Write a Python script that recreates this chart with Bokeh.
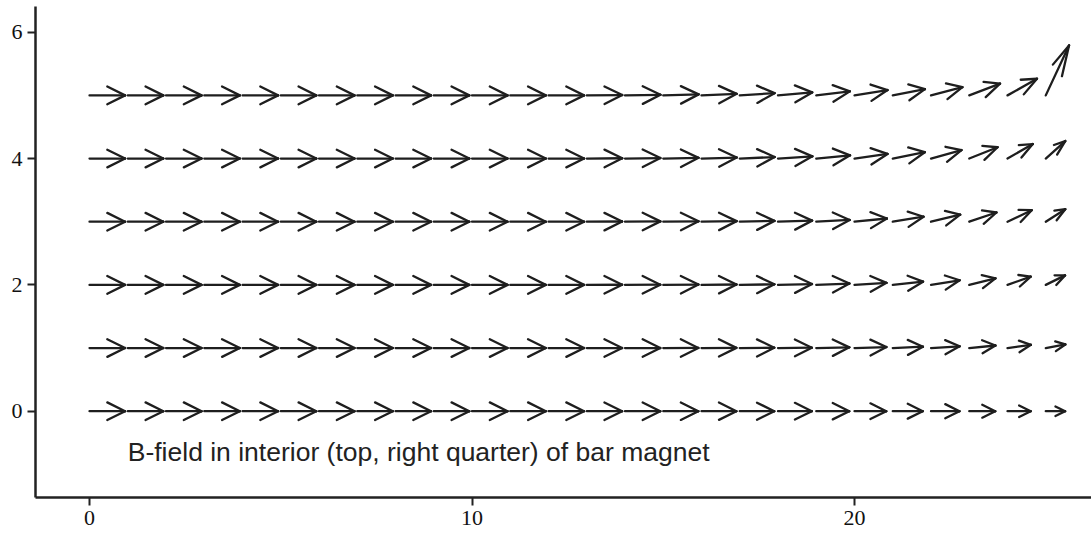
from bokeh.plotting import figure
from bokeh.models import FixedTicker, Range1d, ColumnDataSource, Label
from bokeh.embed import file_html
from bokeh.resources import INLINE

# grid of arrow tails
x_grid = list(range(26))
y_rows = [0, 1, 2, 3, 4, 5]

# field components (data units), one list per row, 26 columns each
left = [0.93] * 13
zero = [0.0] * 13
u_rows = [
    left + [0.925, 0.923, 0.918, 0.912, 0.902, 0.884, 0.863, 0.831, 0.784, 0.745, 0.680, 0.607, 0.507],
    left + [0.925, 0.923, 0.918, 0.912, 0.902, 0.884, 0.865, 0.834, 0.790, 0.748, 0.685, 0.612, 0.512],
    left + [0.925, 0.923, 0.920, 0.915, 0.905, 0.889, 0.868, 0.837, 0.792, 0.748, 0.685, 0.607, 0.505],
    left + [0.925, 0.925, 0.923, 0.918, 0.907, 0.892, 0.873, 0.847, 0.805, 0.763, 0.711, 0.633, 0.510],
    left + [0.928, 0.925, 0.923, 0.920, 0.912, 0.899, 0.884, 0.863, 0.837, 0.797, 0.740, 0.661, 0.510],
    left + [0.928, 0.928, 0.925, 0.920, 0.910, 0.894, 0.878, 0.863, 0.842, 0.821, 0.805, 0.771, 0.609],
]
v_rows = [
    zero + [0.0] * 13,
    zero + [0.0, 0.0, 0.002, 0.003, 0.005, 0.006, 0.011, 0.016, 0.021, 0.028, 0.040, 0.051, 0.057],
    zero + [0.002, 0.003, 0.005, 0.006, 0.009, 0.013, 0.021, 0.032, 0.051, 0.073, 0.104, 0.131, 0.150],
    zero + [0.003, 0.005, 0.006, 0.009, 0.013, 0.017, 0.028, 0.051, 0.079, 0.111, 0.146, 0.182, 0.198],
    zero + [0.005, 0.008, 0.011, 0.016, 0.024, 0.035, 0.051, 0.073, 0.100, 0.134, 0.179, 0.229, 0.277],
    zero + [0.005, 0.009, 0.016, 0.024, 0.035, 0.047, 0.063, 0.084, 0.098, 0.130, 0.187, 0.263, 0.791],
]

x_ticks = [0, 10, 20]
y_ticks = [0, 2, 4, 6]
caption = "B-field in interior (top, right quarter) of bar magnet"

# build segments: shaft + two head arms per arrow
x0, y0, x1, y1 = [], [], [], []
HEAD_BACK, HEAD_SIDE = 0.5, 0.15
for yr, ur, vr in zip(y_rows, u_rows, v_rows):
    for xg, u, v in zip(x_grid, ur, vr):
        tx, ty = xg + u, yr + v
        x0.append(xg); y0.append(yr); x1.append(tx); y1.append(ty)
        for s in (1, -1):
            hx = tx - HEAD_BACK * u + s * HEAD_SIDE * (-v)
            hy = ty - HEAD_BACK * v + s * HEAD_SIDE * u
            x0.append(tx); y0.append(ty); x1.append(hx); y1.append(hy)

src = ColumnDataSource(dict(x0=x0, y0=y0, x1=x1, y1=y1))

p = figure(width=1091, height=537, output_backend="svg", toolbar_location=None,
           x_range=Range1d(-1.412, 26.196), y_range=Range1d(-1.366, 6.407),
           min_border_left=35, min_border_right=0, min_border_top=6, min_border_bottom=40)
p.outline_line_color = None
p.xgrid.visible = False
p.ygrid.visible = False
p.background_fill_color = "white"

p.segment("x0", "y0", "x1", "y1", source=src, line_color="#1e1e1e", line_width=2.3, line_cap="round")

for ax, ticks in ((p.xaxis, x_ticks), (p.yaxis, y_ticks)):
    ax.ticker = FixedTicker(ticks=ticks)
    ax.axis_line_width = 2.5
    ax.axis_line_color = "#222222"
    ax.major_tick_line_width = 2
    ax.major_tick_line_color = "#222222"
    ax.major_tick_out = 8
    ax.major_tick_in = 0
    ax.minor_tick_line_color = None
    ax.major_label_text_font = "Liberation Serif"
    ax.major_label_text_font_size = "22px"
    ax.major_label_text_color = "#111111"
p.xaxis.major_label_standoff = 5
p.yaxis.major_label_standoff = 5

p.add_layout(Label(x=1, y=-0.638, text=caption, text_font="Liberation Sans",
                   text_font_size="26.5px", text_align="left", text_baseline="alphabetic",
                   text_color="#222222"))

open("out.html", "w").write(file_html(p, INLINE))
